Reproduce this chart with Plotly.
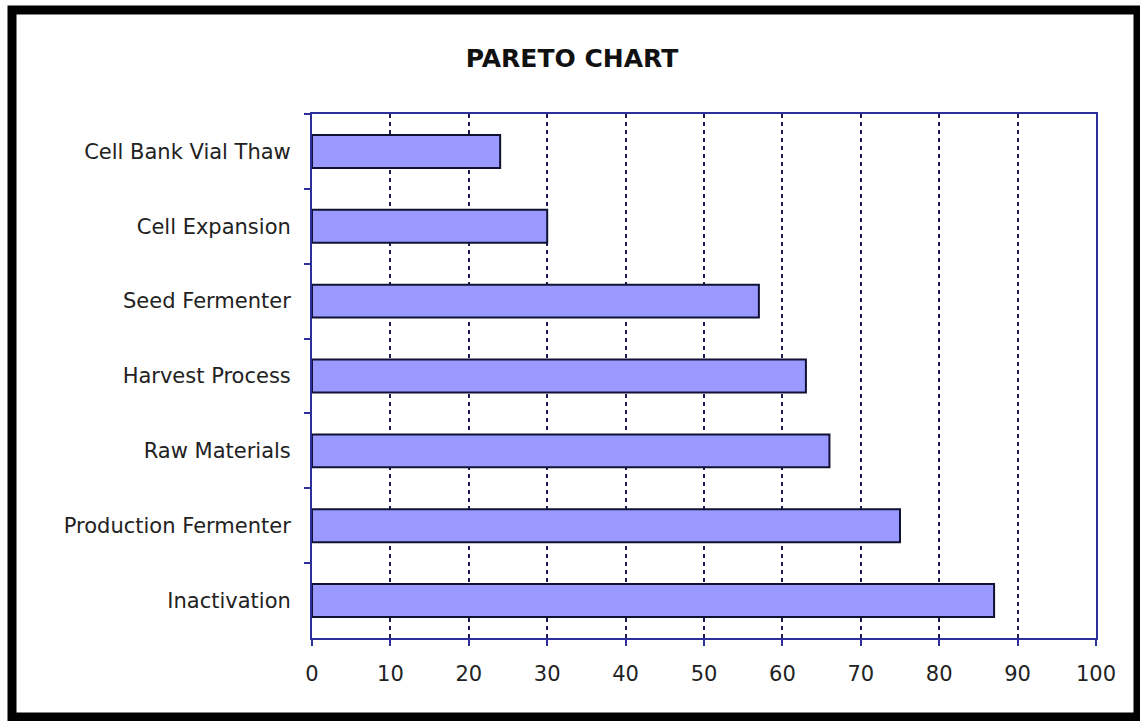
import plotly.graph_objects as go

# Process steps (top to bottom) and their scores
categories = [
    "Cell Bank Vial Thaw",
    "Cell Expansion",
    "Seed Fermenter",
    "Harvest Process",
    "Raw Materials",
    "Production Fermenter",
    "Inactivation",
]
values = [24, 30, 57, 63, 66, 75, 87]
x_ticks = [0, 10, 20, 30, 40, 50, 60, 70, 80, 90, 100]

W, H = 1140, 721
L, R, T, B = 312, 44, 114, 83
plot_w = W - L - R
plot_h = H - T - B


def px_to_paper_x(px):
    return (px - L) / plot_w


def px_to_paper_y(py):
    return (H - B - py) / plot_h


axis_blue = "#2e2e9c"
grid_navy = "#1c1c5a"
label_font = dict(family="DejaVu Sans", size=21, color="#222222")

fig = go.Figure()
fig.add_trace(go.Bar(
    x=values,
    y=categories,
    orientation="h",
    marker=dict(color="#9999ff", line=dict(color="#111133", width=2)),
    width=0.44,
    hoverinfo="x+y",
))

fig.update_layout(
    width=W,
    height=H,
    margin=dict(l=L, r=R, t=T, b=B),
    paper_bgcolor="white",
    plot_bgcolor="white",
    showlegend=False,
    title=dict(
        text="<b>PARETO CHART</b>",
        x=572 / W,
        xref="container",
        xanchor="center",
        y=1 - 58 / H,
        yref="container",
        yanchor="middle",
        font=dict(family="DejaVu Sans", size=25, color="#111111"),
    ),
    xaxis=dict(
        range=[0, 100],
        tickvals=x_ticks,
        ticks="outside",
        ticklen=6,
        tickwidth=2,
        tickcolor=axis_blue,
        showline=True,
        linecolor=axis_blue,
        linewidth=2,
        mirror=True,
        showgrid=True,
        gridcolor=grid_navy,
        gridwidth=2,
        griddash="4px,4px",
        zeroline=False,
        tickfont=label_font,
        ticklabelstandoff=10,
        fixedrange=True,
    ),
    xaxis2=dict(
        range=[0, 100],
        overlaying="x",
        anchor="y",
        side="bottom",
        tickvals=x_ticks,
        ticks="inside",
        ticklen=6,
        tickwidth=2,
        tickcolor=axis_blue,
        showticklabels=False,
        showline=False,
        showgrid=False,
        zeroline=False,
        fixedrange=True,
    ),
    yaxis=dict(
        type="category",
        autorange="reversed",
        tickson="boundaries",
        ticks="outside",
        ticklen=6,
        tickwidth=2,
        tickcolor=axis_blue,
        showline=True,
        linecolor=axis_blue,
        linewidth=2,
        mirror=True,
        showgrid=False,
        zeroline=False,
        tickfont=label_font,
        ticklabelstandoff=15,
        fixedrange=True,
    ),
    shapes=[
        # heavy black frame around the whole chart
        dict(
            type="rect",
            xref="paper",
            yref="paper",
            x0=px_to_paper_x(12),
            x1=px_to_paper_x(1138),
            y0=px_to_paper_y(717),
            y1=px_to_paper_y(10),
            line=dict(color="black", width=9),
            fillcolor="rgba(0,0,0,0)",
            layer="above",
        )
    ],
)

fig.write_html("out.html")
